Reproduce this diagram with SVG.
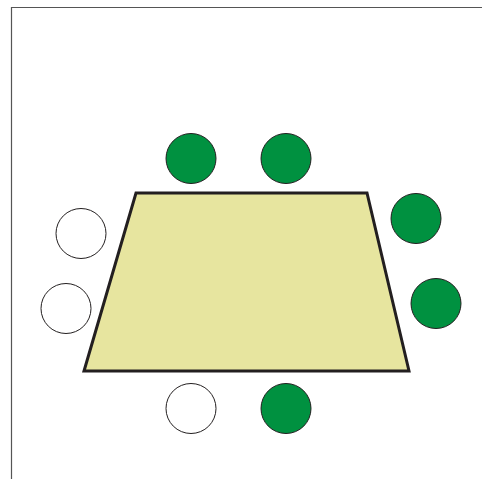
<svg xmlns="http://www.w3.org/2000/svg" width="482" height="479" viewBox="0 0 482 479">
<style>
.frame{fill:none;stroke:#555555;stroke-width:1.2}
.table{fill:#e7e59f;stroke:#231f20;stroke-width:3;stroke-linejoin:miter}
.g{fill:#009140;stroke:#231f20;stroke-width:1}
.w{fill:#ffffff;stroke:#231f20;stroke-width:1}
</style>
<rect width="482" height="479" fill="#ffffff"/>
<path class="frame" d="M11.5 479 V7.5 H482"/>
<g id="table"><polygon class="table" points="136,193 367,193 409,371 84,371"/></g>
<g id="seat1"><circle class="g" cx="191" cy="158.5" r="25"/></g>
<g id="seat2"><circle class="g" cx="286" cy="158.5" r="25"/></g>
<g id="seat3"><circle class="g" cx="416" cy="218.5" r="25"/></g>
<g id="seat4"><circle class="g" cx="436" cy="303.5" r="25"/></g>
<g id="seat5"><circle class="g" cx="286" cy="408.5" r="25"/></g>
<g id="seat6"><circle class="w" cx="191" cy="408.5" r="25"/></g>
<g id="seat7"><circle class="w" cx="66" cy="308.5" r="25"/></g>
<g id="seat8"><circle class="w" cx="81" cy="233.5" r="25"/></g>
<g id="connectors"></g>
</svg>
